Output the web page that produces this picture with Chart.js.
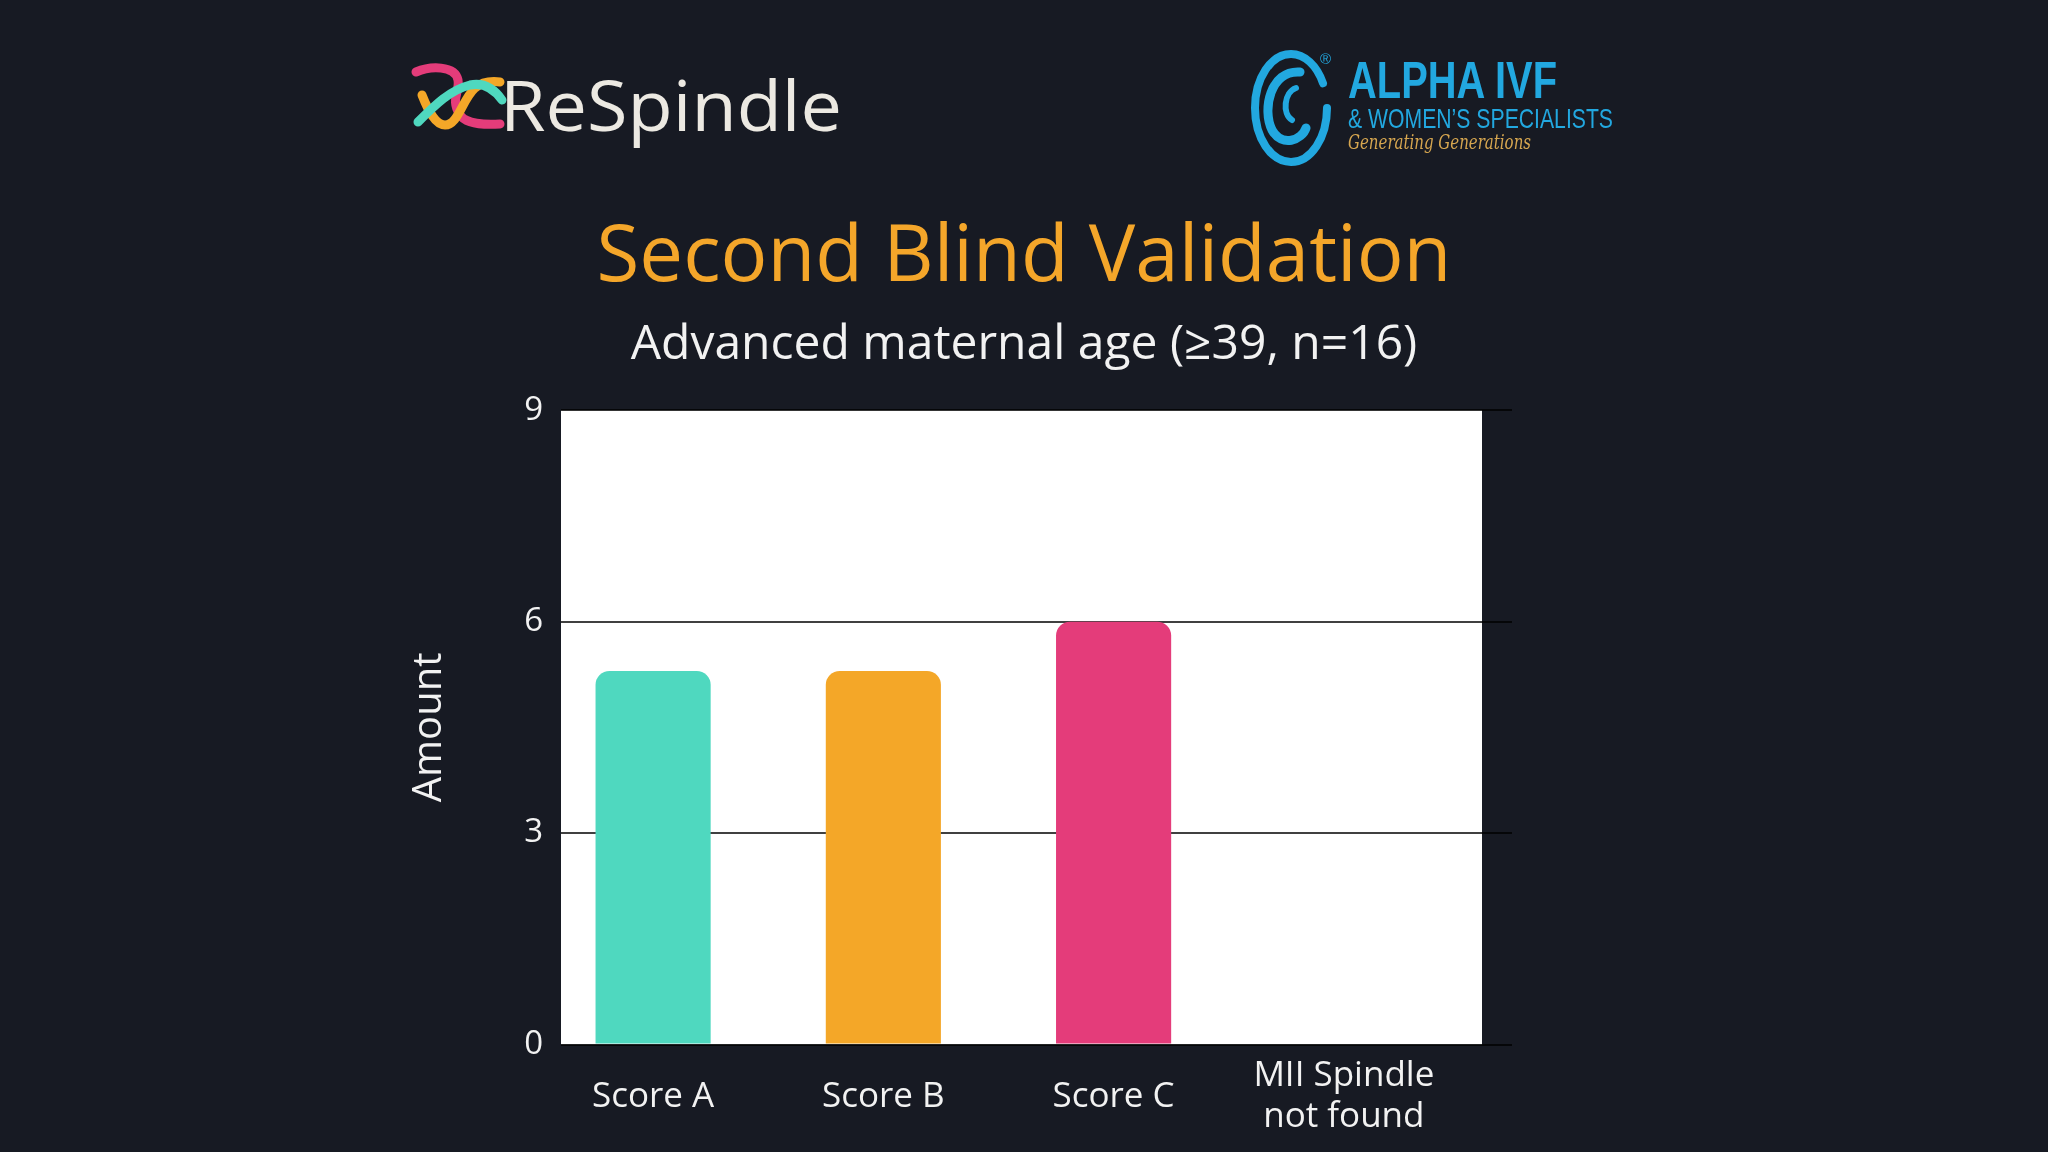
<!DOCTYPE html>
<html>
<head>
<meta charset="utf-8">
<title>Second Blind Validation</title>
<script src="https://cdn.jsdelivr.net/npm/chart.js@4.4.1/dist/chart.umd.min.js"></script>
<style>
  html, body { margin: 0; padding: 0; background: #171a23; }
  #wrap { position: relative; width: 2048px; height: 1152px; overflow: hidden; }
  #scoreChart, #logos { position: absolute; left: 0; top: 0; }
</style>
</head>
<body>
<div id="wrap">
  <canvas id="scoreChart" width="2048" height="1152"></canvas>
  <svg id="logos" width="2048" height="1152" viewBox="0 0 2048 1152">
    <!-- ReSpindle mark -->
    <g transform="translate(400,40)" fill="none" stroke-linecap="round" stroke-width="9">
      <path d="M16,32 C30,26 55,25 58,40 C60,52 50,60 60,75 C66,84 85,85 100,84" stroke="#E43C7A"/>
      <path d="M22,55 C28,70 35,85 45,85 C58,85 62,60 75,48 C82,42 92,41 100,42" stroke="#F4A728"/>
      <path d="M18,82 C35,65 50,50 70,45 C85,42 95,50 102,60" stroke="#4FD8BF"/>
    </g>
    <text x="500" y="131" font-family="'Open Sans', sans-serif" font-size="70" fill="#ECE9E2" textLength="342" lengthAdjust="spacingAndGlyphs">ReSpindle</text>

    <!-- Alpha IVF mark -->
    <g fill="none" stroke="#22A8E0" stroke-linecap="round">
      <ellipse cx="1291" cy="108" rx="36" ry="54" stroke-width="8" stroke-dasharray="260 40"/>
      <path d="M1300,72 C1270,70 1262,110 1272,130 C1282,148 1302,140 1306,128" stroke-width="9"/>
      <path d="M1296,88 C1284,92 1282,114 1292,120" stroke-width="6"/>
    </g>
    <text x="1320" y="64" font-family="'Liberation Sans', sans-serif" font-size="15" fill="#22A8E0">®</text>
    <text x="1348" y="98" font-family="'Liberation Sans Narrow', 'Liberation Sans', sans-serif" font-weight="700" font-size="52" fill="#22A8E0" textLength="209" lengthAdjust="spacingAndGlyphs">ALPHA IVF</text>
    <text x="1348" y="128" font-family="'Liberation Sans Narrow', 'Liberation Sans', sans-serif" font-size="28" fill="#22A8E0" textLength="265" lengthAdjust="spacingAndGlyphs">&amp; WOMEN’S SPECIALISTS</text>
    <text x="1348" y="149" font-family="'DejaVu Serif', serif" font-style="italic" font-size="20" fill="#D6A650" textLength="183" lengthAdjust="spacingAndGlyphs">Generating Generations</text>
  </svg>
</div>
<script>
const categories = ["Score A", "Score B", "Score C", ["MII Spindle", "not found"]];
const amounts = [5.3, 5.3, 6, 0];
const barColors = ["#4FD8BF", "#F4A728", "#E43C7A", "#9E9E9E"];
const yMin = 0;
const yMax = 9;
const yStep = 3;

const textColor = "#F2F2F2";
const gridColor = "rgba(0, 0, 0, 0.75)";

// white panel behind the plot area
const plotBackground = {
  id: "plotBackground",
  beforeDraw(chart) {
    const { ctx, chartArea } = chart;
    ctx.save();
    ctx.fillStyle = "#ffffff";
    ctx.fillRect(chartArea.left, chartArea.top, chartArea.width, chartArea.height);
    ctx.restore();
  },
};

Chart.defaults.font.family = "'Open Sans', sans-serif";

const config = {
  type: "bar",
  data: {
    datasets: [
      {
        label: "Amount",
        data: amounts.map((v, i) => ({ x: i, y: v })),
        backgroundColor: barColors,
        borderWidth: 0,
        borderRadius: { topLeft: 14, topRight: 14, bottomLeft: 0, bottomRight: 0 },
        barPercentage: 0.5,
        categoryPercentage: 1,
      },
    ],
  },
  options: {
    responsive: false,
    animation: false,
    layout: { padding: { top: 0, left: 406, right: 406, bottom: -37 } },
    plugins: {
      legend: { display: false },
      tooltip: { enabled: false },
      title: {
        display: true,
        text: "Second Blind Validation",
        color: "#F4A62A",
        font: { size: 78, weight: 500 },
        padding: { top: 212, bottom: 0 },
      },
      subtitle: {
        display: true,
        text: "Advanced maternal age (≥39, n=16)",
        color: textColor,
        font: { size: 48 },
        padding: { top: 11, bottom: 36 },
      },
    },
    scales: {
      x: {
        type: "linear",
        min: -0.4,
        max: 3.6,
        offset: false,
        grid: { display: false, drawTicks: false, offset: false },
        border: { display: false },
        afterBuildTicks: (scale) => {
          scale.ticks = categories.map((c, i) => ({ value: i }));
        },
        ticks: {
          autoSkip: false,
          maxRotation: 0,
          crossAlign: "center",
          padding: 32,
          color: textColor,
          font: { size: 35, lineHeight: 1.15 },
          callback: (v) => categories[v],
        },
      },
      y: {
        type: "linear",
        min: yMin,
        max: yMax,
        afterFit: (scale) => {
          scale.width = 155;
        },
        ticks: { stepSize: yStep, color: textColor, font: { size: 33 }, padding: 18 },
        grid: { color: gridColor, lineWidth: 2, drawTicks: false },
        border: { display: false },
        title: {
          display: true,
          text: "Amount",
          color: textColor,
          font: { size: 40 },
          padding: { top: 0, bottom: 0 },
        },
      },
      y2: {
        type: "linear",
        position: "right",
        min: yMin,
        max: yMax,
        afterFit: (scale) => {
          scale.width = 160;
        },
        ticks: { display: false, stepSize: yStep },
        grid: { drawOnChartArea: false, color: gridColor, lineWidth: 2, tickLength: 30 },
        border: { display: false },
      },
    },
  },
  plugins: [plotBackground],
};

new Chart(document.getElementById("scoreChart"), config);
</script>
</body>
</html>
